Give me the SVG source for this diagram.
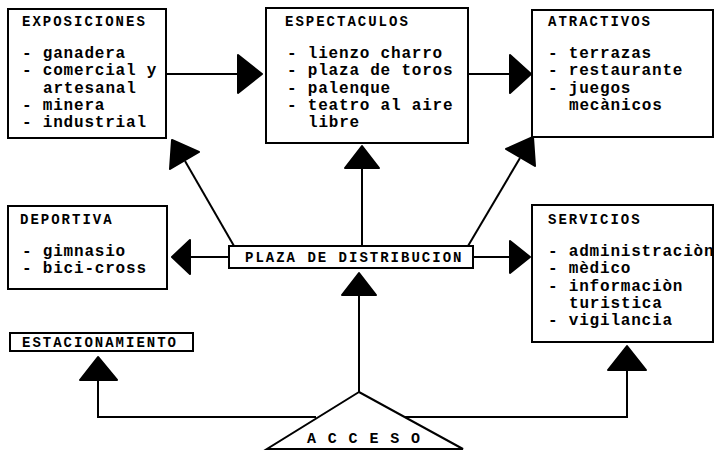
<svg xmlns="http://www.w3.org/2000/svg" width="725" height="452" viewBox="0 0 725 452">
<style>
.box{fill:#fff;stroke:#000;stroke-width:2}
.h{font-family:"Liberation Mono",monospace;font-weight:bold;font-size:14px;letter-spacing:2px;fill:#000}
.t{font-family:"Liberation Mono",monospace;font-weight:bold;font-size:16px;letter-spacing:0.8px;fill:#000}
.a{font-family:"Liberation Mono",monospace;font-weight:bold;font-size:15px;fill:#000}
.ln{stroke:#000;stroke-width:2;fill:none}
.ah{fill:#000;stroke:#000;stroke-width:2;stroke-linejoin:round}
</style>
<rect width="725" height="452" fill="#fff"/>
<g id="connectors">
<line class="ln" x1="166" y1="74" x2="240" y2="74"/>
<polygon class="ah" points="238,55 262,74 238,93"/>
<line class="ln" x1="468" y1="74" x2="512" y2="74"/>
<polygon class="ah" points="510,55 531,74 510,93"/>
<line class="ln" x1="362" y1="246" x2="362" y2="166"/>
<polygon class="ah" points="345,168 362,146 379,168"/>
<line class="ln" x1="234" y1="246" x2="185" y2="161"/>
<polygon class="ah" points="172,140 199,152 170,169"/>
<line class="ln" x1="468" y1="246" x2="520" y2="158"/>
<polygon class="ah" points="533,137 535,166 506,149"/>
<line class="ln" x1="229" y1="257" x2="188" y2="257"/>
<polygon class="ah" points="190,240 172,257 190,274"/>
<line class="ln" x1="473" y1="257" x2="512" y2="257"/>
<polygon class="ah" points="510,241 530,257 510,273"/>
<line class="ln" x1="359" y1="392" x2="359" y2="293"/>
<polygon class="ah" points="342,295 359,273 376,295"/>
<polyline class="ln" points="316,417 98,417 98,378"/>
<polygon class="ah" points="80,380 98,357 117,380"/>
<polyline class="ln" points="405,417 627,417 627,368"/>
<polygon class="ah" points="608,370 627,346 646,370"/>
</g>
<g id="exposiciones">
<rect class="box" x="8" y="9" width="158" height="129"/>
<text class="h" x="22" y="26">EXPOSICIONES</text>
<text class="t" x="22" y="58">- ganadera</text>
<text class="t" x="22" y="75.3">- comercial y</text>
<text class="t" x="43" y="92.6">artesanal</text>
<text class="t" x="22" y="110">- minera</text>
<text class="t" x="22" y="127.2">- industrial</text>
</g>
<g id="espectaculos">
<rect class="box" x="266" y="8" width="202" height="135"/>
<text class="h" x="285" y="26">ESPECTACULOS</text>
<text class="t" x="287" y="58">- lienzo charro</text>
<text class="t" x="287" y="75.3">- plaza de toros</text>
<text class="t" x="287" y="92.6">- palenque</text>
<text class="t" x="287" y="110">- teatro al aire</text>
<text class="t" x="308" y="127.2">libre</text>
</g>
<g id="atractivos">
<rect class="box" x="532" y="10" width="181" height="127"/>
<text class="h" x="548" y="26">ATRACTIVOS</text>
<text class="t" x="548" y="58">- terrazas</text>
<text class="t" x="548" y="75.3">- restaurante</text>
<text class="t" x="548" y="92.6">- juegos</text>
<text class="t" x="569" y="110">mecànicos</text>
</g>
<g id="deportiva">
<rect class="box" x="8" y="206" width="159" height="83"/>
<text class="h" x="20" y="224">DEPORTIVA</text>
<text class="t" x="22" y="256">- gimnasio</text>
<text class="t" x="22" y="273.3">- bici-cross</text>
</g>
<g id="plaza">
<rect class="box" x="229" y="246" width="244" height="22"/>
<text class="h" x="245" y="262">PLAZA DE DISTRIBUCION</text>
</g>
<g id="servicios">
<rect class="box" x="532" y="205" width="181" height="137"/>
<text class="h" x="548" y="224">SERVICIOS</text>
<text class="t" x="548" y="256">- administraciòn</text>
<text class="t" x="548" y="273.3">- mèdico</text>
<text class="t" x="548" y="290.6">- informaciòn</text>
<text class="t" x="569" y="308">turistica</text>
<text class="t" x="548" y="325.3">- vigilancia</text>
</g>
<g id="estacionamiento">
<rect class="box" x="10" y="333" width="183" height="18"/>
<text class="h" x="22" y="347">ESTACIONAMIENTO</text>
</g>
<g id="acceso">
<polygon class="box" points="359,392 267,449 463,449" stroke-linejoin="miter"/>
<text class="a" x="307" y="443" letter-spacing="11.8px">ACCESO</text>
</g>
</svg>
